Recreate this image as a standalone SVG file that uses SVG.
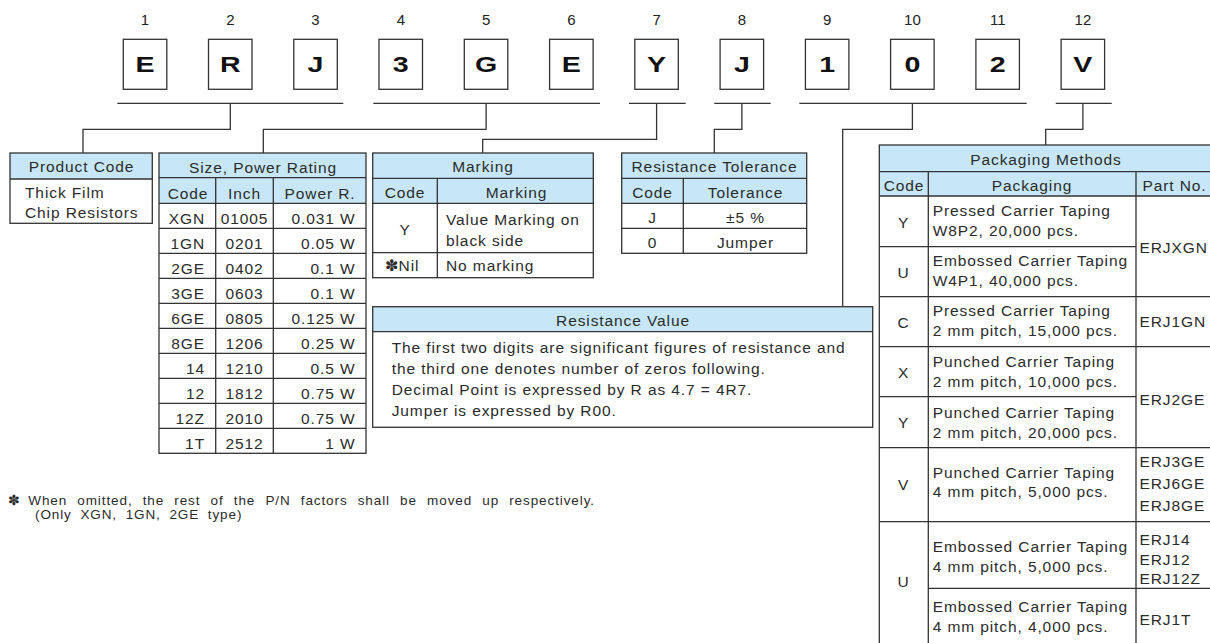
<svg xmlns="http://www.w3.org/2000/svg" width="1210" height="643" viewBox="0 0 1210 643">
<style>
.t{font-family:"Liberation Sans",Arial,sans-serif;font-size:15.5px;letter-spacing:0.9px;fill:#2b2b2b}
.c{text-anchor:middle}
.e{text-anchor:end}
.num{font-family:"Liberation Sans",Arial,sans-serif;font-size:15px;fill:#222;text-anchor:middle}
.big{font-family:"Liberation Sans",Arial,sans-serif;font-size:22px;font-weight:bold;fill:#111;text-anchor:middle}
.hdr{fill:#c7e7f8;stroke:none}
.ln{stroke:#333;stroke-width:1.3;fill:none}
.box{fill:#fff;stroke:#333;stroke-width:1.3}
.fn{font-family:"Liberation Sans",Arial,sans-serif;font-size:13.5px;letter-spacing:0.9px;word-spacing:5.5px;fill:#2b2b2b}
</style>
<rect width="1210" height="643" fill="#fff"/>

<g id="part-number">
  <g id="pos1"><text class="num" x="145" y="25">1</text><rect class="box" x="123.3" y="39.3" width="43.5" height="50"/><text class="big" transform="translate(145,72) scale(1.3,1)">E</text></g>
  <g id="pos2"><text class="num" x="230.3" y="25">2</text><rect class="box" x="208.5" y="39.3" width="43.5" height="50"/><text class="big" transform="translate(230.3,72) scale(1.3,1)">R</text></g>
  <g id="pos3"><text class="num" x="315.5" y="25">3</text><rect class="box" x="293.8" y="39.3" width="43.5" height="50"/><text class="big" transform="translate(315.5,72) scale(1.3,1)">J</text></g>
  <g id="pos4"><text class="num" x="400.8" y="25">4</text><rect class="box" x="379" y="39.3" width="43.5" height="50"/><text class="big" transform="translate(400.8,72) scale(1.3,1)">3</text></g>
  <g id="pos5"><text class="num" x="486.1" y="25">5</text><rect class="box" x="464.3" y="39.3" width="43.5" height="50"/><text class="big" transform="translate(486.1,72) scale(1.3,1)">G</text></g>
  <g id="pos6"><text class="num" x="571.4" y="25">6</text><rect class="box" x="549.6" y="39.3" width="43.5" height="50"/><text class="big" transform="translate(571.4,72) scale(1.3,1)">E</text></g>
  <g id="pos7"><text class="num" x="656.6" y="25">7</text><rect class="box" x="634.8" y="39.3" width="43.5" height="50"/><text class="big" transform="translate(656.6,72) scale(1.3,1)">Y</text></g>
  <g id="pos8"><text class="num" x="741.9" y="25">8</text><rect class="box" x="720.1" y="39.3" width="43.5" height="50"/><text class="big" transform="translate(741.9,72) scale(1.3,1)">J</text></g>
  <g id="pos9"><text class="num" x="827.2" y="25">9</text><rect class="box" x="805.4" y="39.3" width="43.5" height="50"/><text class="big" transform="translate(827.2,72) scale(1.3,1)">1</text></g>
  <g id="pos10"><text class="num" x="912.4" y="25">10</text><rect class="box" x="890.6" y="39.3" width="43.5" height="50"/><text class="big" transform="translate(912.4,72) scale(1.3,1)">0</text></g>
  <g id="pos11"><text class="num" x="997.7" y="25">11</text><rect class="box" x="975.9" y="39.3" width="43.5" height="50"/><text class="big" transform="translate(997.7,72) scale(1.3,1)">2</text></g>
  <g id="pos12"><text class="num" x="1082.9" y="25">12</text><rect class="box" x="1061.1" y="39.3" width="43.5" height="50"/><text class="big" transform="translate(1082.9,72) scale(1.3,1)">V</text></g>
</g>

<g id="connectors" class="ln">
  <path d="M117.3 103.3H343.3M230.3 103.3V129.3H83V153"/>
  <path d="M373.3 103.3H600M486.1 103.3V129.3H263.3V153"/>
  <path d="M629 103.3H685.7M656.6 103.3V139.3H482.7V153"/>
  <path d="M714.3 103.3H770.7M741.9 103.3V129.3H714.3V153"/>
  <path d="M799.3 103.3H1026.7M912.4 103.3V129.3H842.7V306.7"/>
  <path d="M1055.7 103.3H1111.7M1082.9 103.3V129.3H1045.7V145"/>
</g>

<g id="product-code">
  <rect x="10" y="153" width="142.3" height="70.3" fill="#fff"/>
  <rect class="hdr" x="10" y="153" width="142.3" height="26"/>
  <rect class="ln" x="10" y="153" width="142.3" height="70.3"/>
  <path class="ln" d="M10 179H152.3"/>
  <text class="t c" x="81.5" y="172">Product Code</text>
  <text class="t" x="25" y="198">Thick Film</text>
  <text class="t" x="25" y="218">Chip Resistors</text>
</g>

<g id="size-power">
  <rect x="159" y="153" width="207" height="300.3" fill="#fff"/>
  <rect class="hdr" x="159" y="153" width="207" height="50.3"/>
  <rect class="ln" x="159" y="153" width="207" height="300.3"/>
  <path class="ln" d="M159 177.7H366M159 203.3H366M159 228.3H366M159 253.3H366M159 278.3H366M159 303.3H366M159 328.3H366M159 353.3H366M159 378.3H366M159 403.3H366M159 428.3H366M215.7 177.7V453.3M273.3 177.7V453.3"/>
  <text class="t c" x="263" y="172.5">Size, Power Rating</text>
  <text class="t c" x="188" y="198.5">Code</text>
  <text class="t c" x="244.5" y="198.5">Inch</text>
  <text class="t e" x="355.5" y="198.5">Power R.</text>
  <g class="t">
    <text class="e" x="205" y="223.8">XGN</text><text class="c" x="244.5" y="223.8">01005</text><text class="e" x="355.5" y="223.8">0.031 W</text>
    <text class="e" x="205" y="248.8">1GN</text><text class="c" x="244.5" y="248.8">0201</text><text class="e" x="355.5" y="248.8">0.05 W</text>
    <text class="e" x="205" y="273.8">2GE</text><text class="c" x="244.5" y="273.8">0402</text><text class="e" x="355.5" y="273.8">0.1 W</text>
    <text class="e" x="205" y="298.8">3GE</text><text class="c" x="244.5" y="298.8">0603</text><text class="e" x="355.5" y="298.8">0.1 W</text>
    <text class="e" x="205" y="323.8">6GE</text><text class="c" x="244.5" y="323.8">0805</text><text class="e" x="355.5" y="323.8">0.125 W</text>
    <text class="e" x="205" y="348.8">8GE</text><text class="c" x="244.5" y="348.8">1206</text><text class="e" x="355.5" y="348.8">0.25 W</text>
    <text class="e" x="205" y="373.8">14</text><text class="c" x="244.5" y="373.8">1210</text><text class="e" x="355.5" y="373.8">0.5 W</text>
    <text class="e" x="205" y="398.8">12</text><text class="c" x="244.5" y="398.8">1812</text><text class="e" x="355.5" y="398.8">0.75 W</text>
    <text class="e" x="205" y="423.8">12Z</text><text class="c" x="244.5" y="423.8">2010</text><text class="e" x="355.5" y="423.8">0.75 W</text>
    <text class="e" x="205" y="448.8">1T</text><text class="c" x="244.5" y="448.8">2512</text><text class="e" x="355.5" y="448.8">1 W</text>
  </g>
</g>

<g id="marking">
  <rect x="372.7" y="153" width="220.6" height="124.7" fill="#fff"/>
  <rect class="hdr" x="372.7" y="153" width="220.6" height="50.3"/>
  <rect class="ln" x="372.7" y="153" width="220.6" height="124.7"/>
  <path class="ln" d="M372.7 178.3H593.3M372.7 203.3H593.3M372.7 252.7H593.3M437.3 178.3V277.7"/>
  <text class="t c" x="483" y="172">Marking</text>
  <text class="t c" x="405" y="198">Code</text>
  <text class="t c" x="516.5" y="198">Marking</text>
  <text class="t c" x="405" y="235">Y</text>
  <text class="t" x="446" y="224.5">Value Marking on</text>
  <text class="t" x="446" y="245.5">black side</text>
  <text class="t c" x="402" y="271">✽Nil</text>
  <text class="t" x="446" y="270.5">No marking</text>
</g>

<g id="tolerance">
  <rect x="621.7" y="153" width="185" height="100.3" fill="#fff"/>
  <rect class="hdr" x="621.7" y="153" width="185" height="50.3"/>
  <rect class="ln" x="621.7" y="153" width="185" height="100.3"/>
  <path class="ln" d="M621.7 178.3H806.7M621.7 203.3H806.7M621.7 228.3H806.7M683.3 178.3V253.3"/>
  <text class="t c" x="714.5" y="172">Resistance Tolerance</text>
  <text class="t c" x="652.5" y="198">Code</text>
  <text class="t c" x="745.5" y="198">Tolerance</text>
  <text class="t c" x="652.5" y="223">J</text>
  <text class="t c" x="745.5" y="223">±5 %</text>
  <text class="t c" x="652.5" y="248">0</text>
  <text class="t c" x="745.5" y="248">Jumper</text>
</g>

<g id="resistance-value">
  <rect x="372.7" y="306.7" width="500" height="120.6" fill="#fff"/>
  <rect class="hdr" x="372.7" y="306.7" width="500" height="25"/>
  <rect class="ln" x="372.7" y="306.7" width="500" height="120.6"/>
  <path class="ln" d="M372.7 331.7H872.7"/>
  <text class="t c" x="623" y="325.5">Resistance Value</text>
  <text class="t" x="391.7" y="352.5">The first two digits are significant figures of resistance and</text>
  <text class="t" x="391.7" y="373.5">the third one denotes number of zeros following.</text>
  <text class="t" x="391.7" y="394.5">Decimal Point is expressed by R as 4.7 = 4R7.</text>
  <text class="t" x="391.7" y="415.5">Jumper is expressed by R00.</text>
</g>

<g id="packaging">
  <rect x="879.3" y="145" width="334" height="510" fill="#fff"/>
  <rect class="hdr" x="879.3" y="145" width="334" height="51"/>
  <rect class="ln" x="879.3" y="145" width="334" height="510"/>
  <path class="ln" d="M879.3 171.7H1213M879.3 196H1213M928.3 171.7V655M1136 171.7V655M879.3 246.7H1136M879.3 296.7H1213M879.3 346.7H1213M879.3 396.7H1136M879.3 447.7H1213M879.3 521.7H1213M928.3 588.3H1213"/>
  <text class="t c" x="1046" y="165">Packaging Methods</text>
  <text class="t c" x="904" y="190.5">Code</text>
  <text class="t c" x="1032" y="190.5">Packaging</text>
  <text class="t c" x="1174.5" y="190.5">Part No.</text>
  <g class="t">
    <text class="c" x="903.5" y="228">Y</text>
    <text x="932.7" y="216">Pressed Carrier Taping</text>
    <text x="932.7" y="236">W8P2, 20,000 pcs.</text>
    <text class="c" x="903.5" y="278">U</text>
    <text x="932.7" y="266">Embossed Carrier Taping</text>
    <text x="932.7" y="286">W4P1, 40,000 pcs.</text>
    <text x="1139.5" y="253">ERJXGN</text>
    <text class="c" x="903.5" y="328">C</text>
    <text x="932.7" y="316">Pressed Carrier Taping</text>
    <text x="932.7" y="336">2 mm pitch, 15,000 pcs.</text>
    <text x="1139.5" y="327">ERJ1GN</text>
    <text class="c" x="903.5" y="378">X</text>
    <text x="932.7" y="366.5">Punched Carrier Taping</text>
    <text x="932.7" y="386.5">2 mm pitch, 10,000 pcs.</text>
    <text x="1139.5" y="405">ERJ2GE</text>
    <text class="c" x="903.5" y="428">Y</text>
    <text x="932.7" y="418">Punched Carrier Taping</text>
    <text x="932.7" y="438">2 mm pitch, 20,000 pcs.</text>
    <text class="c" x="903.5" y="490">V</text>
    <text x="932.7" y="477.5">Punched Carrier Taping</text>
    <text x="932.7" y="497">4 mm pitch, 5,000 pcs.</text>
    <text x="1139.5" y="467">ERJ3GE</text>
    <text x="1139.5" y="489">ERJ6GE</text>
    <text x="1139.5" y="511">ERJ8GE</text>
    <text class="c" x="903.5" y="587">U</text>
    <text x="932.7" y="551.5">Embossed Carrier Taping</text>
    <text x="932.7" y="571.5">4 mm pitch, 5,000 pcs.</text>
    <text x="1139.5" y="545">ERJ14</text>
    <text x="1139.5" y="564.5">ERJ12</text>
    <text x="1139.5" y="584">ERJ12Z</text>
    <text x="932.7" y="612">Embossed Carrier Taping</text>
    <text x="932.7" y="632">4 mm pitch, 4,000 pcs.</text>
    <text x="1139.5" y="625">ERJ1T</text>
  </g>
</g>

<g id="footnote">
  <text class="fn" x="8" y="505">✽</text>
  <text class="fn" x="28.3" y="505">When omitted, the rest of the P/N factors shall be moved up respectively.</text>
  <text class="fn" x="35" y="519" style="word-spacing:4px">(Only XGN, 1GN, 2GE type)</text>
</g>
</svg>
